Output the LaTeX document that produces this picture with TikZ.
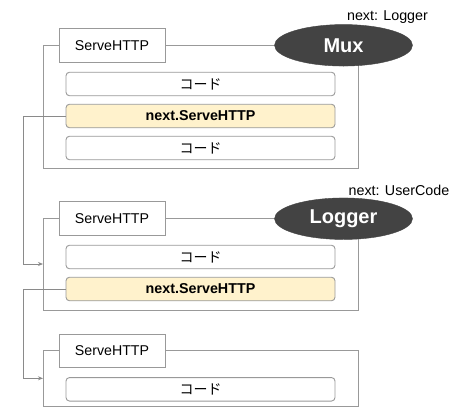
\documentclass[tikz,border=0pt]{standalone}
\usepackage{fontspec}
\setmainfont{Liberation Sans}
\newfontfamily\jpfont{Noto Sans CJK JP}
\usetikzlibrary{shapes.geometric,arrows.meta}
\definecolor{boxline}{HTML}{999999}
\definecolor{conn}{HTML}{8A8A8A}
\definecolor{darkfill}{HTML}{434343}
\definecolor{yel}{HTML}{FFF2CC}
\tikzset{
  outerbox/.style={draw=boxline, line width=0.9pt},
  shbox/.style={draw=boxline, fill=white, line width=0.9pt, minimum width=106pt, minimum height=33.5pt, inner sep=0pt, font=\fontsize{14.2}{16}\selectfont},
  codebox/.style={draw=boxline, fill=white, rounded corners=3.5pt, line width=0.9pt, minimum width=269pt, minimum height=23.5pt, inner sep=0pt, font=\fontsize{14}{16}\jpfont},
  nextbox/.style={draw=boxline, fill=yel, rounded corners=3.5pt, line width=0.9pt, minimum width=269pt, minimum height=23.5pt, inner sep=0pt, font=\fontsize{14.3}{16}\selectfont\bfseries},
  handler/.style={ellipse, fill=darkfill, draw=darkfill, text=white, minimum width=138pt, minimum height=41.5pt, inner sep=0pt, font=\fontsize{20}{22}\selectfont\bfseries},
  nextlbl/.style={inner sep=0pt, font=\fontsize{14.3}{16}\selectfont},
  link/.style={draw=conn, line width=0.9pt},
  arrowlink/.style={link, -{Stealth[length=5pt,width=4pt]}}
}
\begin{document}
\begin{tikzpicture}[x=1pt,y=-1pt]
\useasboundingbox (0,0) rectangle (461,413);
% outer frames
\draw[outerbox] (43,45.5) rectangle (358,168);
\draw[outerbox] (43,218) rectangle (358,310);
\draw[outerbox] (43,350.5) rectangle (358,406.7);
% block 1
\node[shbox] (sh1) at (112,45.5) {ServeHTTP};
\node[handler] (mux) at (343.5,45.3) {Mux};
\node[nextlbl] (lbl1) at (387.5,17) {next: Logger};
\node[codebox] (c1) at (200.5,84) {コード};
\node[nextbox] (n1) at (200.5,116) {next.ServeHTTP};
\node[codebox] (c2) at (200.5,148) {コード};
% block 2
\node[shbox] (sh2) at (112,218.5) {ServeHTTP};
\node[handler] (logger) at (343.5,218.7) {Logger};
\node[nextlbl] (lbl2) at (399,190.5) {next: UserCode};
\node[codebox] (c3) at (200.5,257) {コード};
\node[nextbox] (n2) at (200.5,289) {next.ServeHTTP};
% block 3
\node[shbox] (sh3) at (112,350.7) {ServeHTTP};
\node[codebox] (c4) at (200.5,389.3) {コード};
% connectors
\coordinate (in2) at (43,264);
\coordinate (in3) at (43,378.3);
\draw[arrowlink] (n1.west) -- (23.7,116) |- (in2);
\draw[arrowlink] (n2.west) -- (23.7,289) |- (in3);
\end{tikzpicture}
\end{document}
